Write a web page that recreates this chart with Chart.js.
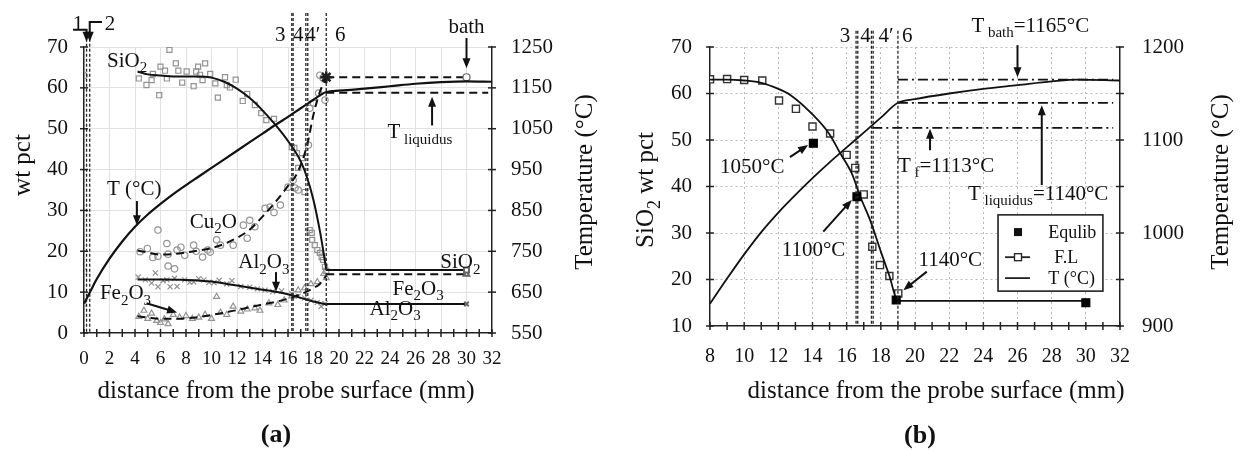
<!DOCTYPE html>
<html>
<head>
<meta charset="utf-8">
<script src="https://cdn.jsdelivr.net/npm/chart.js@4.4.1/dist/chart.umd.min.js"></script>
<style>
  body { margin: 0; background: #fff; width: 1247px; height: 451px; overflow: hidden; position: relative; }
  canvas { position: absolute; top: 0; }
  #chartA { left: 0; }
  #chartB { left: 620px; }
</style>
</head>
<body>
<canvas id="chartA" width="620" height="451"></canvas>
<canvas id="chartB" width="627" height="451"></canvas>
<script>
// ---------- panel (a): measured points [distance mm, wt pct] ----------
const aSiO2Pts = [[0,15],[4.3,62.3],[4.9,60.7],[5.3,61.9],[5.4,63.4],[5.9,58.2],[6.0,65.2],[6.35,64.2],[6.5,62.3],[6.7,69.3],[7.2,66],[7.4,64.2],[7.7,61.3],[8.05,64],[8.6,60.4],[8.8,64],[8.95,65.2],[9.1,63.2],[9.3,61.9],[9.5,66],[9.9,63.4],[10.3,61.1],[10.5,57.6],[11.06,62.6],[11.2,60.7],[11.45,60.1],[11.9,62],[12.45,56.8],[12.8,58.5],[13.4,55.8],[13.9,53.8],[14.3,52.1],[14.9,52.4],[16.3,45.5],[16.5,45.3],[16.7,44],[17.1,42.8],[16.8,40.4],[17.3,34.5],[17.7,25.2],[17.86,24.5],[17.9,22.8],[18.1,21.5],[18.3,20.3],[18.5,19.6],[18.64,18.6],[18.75,17.9],[18.9,16.2],[19,15.2]];
const aCu2OPts = [[0,63],[4.4,19.9],[4.97,20.7],[5.4,18.5],[5.8,18.8],[5.8,25.2],[6.5,21.9],[6.6,19.3],[6.6,16.4],[7.1,15.7],[7.3,20.3],[7.6,21],[7.9,19.0],[8.6,21.5],[8.8,20],[9.3,18.6],[9.7,20.3],[9.9,19.8],[10.4,22.8],[10.7,21.5],[11.7,21.5],[12.5,26.4],[12.8,23.2],[13.0,27.6],[13.4,26],[14.2,30.5],[14.6,30.8],[14.9,29.5],[15.4,31.3],[16.0,35.7],[16.4,37.4],[16.55,35.5],[16.8,35],[17.6,46],[17.7,55],[18,56.3],[18.4,58.7],[18.9,57],[18.5,63.1],[18.75,62.4],[19,62.5]];
const aAl2O3Pts = [[0,7],[4.25,13.7],[4.8,13],[5.3,12.2],[5.6,14.7],[5.8,11.3],[6.2,12.8],[6.5,13],[6.75,11.3],[7.1,13.4],[7.3,11.4],[7.9,13],[8.3,12.4],[8.6,12.5],[9.0,13.3],[9.4,13],[9.8,12.4],[10.2,12.3],[10.6,12.9],[11.2,12],[11.6,12.8],[12.3,11.4],[13,11.2],[13.6,10.8],[14.2,10.5],[14.8,10.1],[15.5,10.3],[16.3,9.6],[16.8,9],[17.3,8.6],[17.8,8],[18.3,7.5],[18.6,6.5],[18.9,7.2]];
const aFe2O3Pts = [[4.3,4.0],[4.7,5.5],[5.0,3.5],[5.3,4.8],[5.7,3],[6.0,2.5],[6.3,3.4],[6.6,2.2],[7.0,4.5],[7.5,3.8],[8.0,4.2],[8.5,3.5],[9.0,3.8],[9.5,4.5],[10.0,3.5],[10.4,8.9],[10.7,5],[11.2,4.5],[11.7,6.5],[12.3,5.3],[12.8,5.8],[13.4,6.1],[13.8,5.5],[14.5,7.3],[15.2,6.9],[15.7,8],[16.3,9],[16.8,10.5],[17.3,11],[17.8,12],[18.3,12.5],[18.8,14.5],[19,13.5]];

// fitted curves
const aSiO2Fit = [[4.2,64],[5,63.3],[6,63],[7,62.8],[8,62.8],[9,62.8],[10,62.5],[11,61.5],[12,59.8],[13,57.5],[14,54.5],[15,51],[16,47],[17,42],[17.5,38],[18,32.5],[18.5,25],[18.8,19.5],[19,15.5]];
const aCu2OFit = [[4.2,20.2],[5,19.7],[6,19.2],[7,19.3],[8,19.7],[9,20.2],[10,20.8],[11,21.8],[12,23.3],[13,25.3],[14,28.5],[15,32],[16,36],[16.7,39],[17.5,46],[18,53.5],[18.5,59],[19,62.5]];
const aAl2O3Fit = [[4.2,13.1],[6,13.1],[8,13],[10,12.6],[12,11.6],[14,10.6],[15,10.1],[16,9.5],[17,8.6],[18,7.7],[19,7]];
const aFe2O3Fit = [[4.2,4.1],[5,3.8],[6,3.5],[7,3.5],[8,3.6],[9,3.9],[10,4.4],[11,5],[12,5.6],[13,6.3],[14,7],[15,7.6],[16,8.4],[17,9.5],[18,11],[18.5,12],[19,14]];
const aTemp = [[0,622],[0.5,652],[1,682],[2,732],[3,774],[4,810],[5,840],[6,866],[7,890],[8,912],[9,933],[10,954],[11,975],[12,996],[13,1017],[14,1038],[15,1059],[16,1079],[17,1100],[18,1121],[19,1140],[20,1143],[22,1148],[24,1154],[26,1160],[28,1164],[30,1166],[32,1165]];

// bath composition (x from 19 to 30 mm)
const aBathX = [19, 30];
const aBathSiO2 = 15.4;
const aBathFe2O3 = 14.4;
const aBathAl2O3 = 7.1;
const aBathCu2O = 62.6;
const aLiqX = [19, 31.7];
const aTLiquidus = 1138;
const aZones = [0.2, 0.45, 16.3, 16.4, 17.4, 17.55, 19];

const aXLabels = [0,2,4,6,8,10,12,14,16,18,20,22,24,26,28,30,32];
const aYLabels = [0,10,20,30,40,50,60,70];
const aTLabels = [550,650,750,850,950,1050,1150,1250];

// ---------- panel (b) ----------
const bEqulib = [[14.05,49.3],[16.6,37.8],[18.9,15.6],[30,15.0]];
const bFLPts = [[8,63.05],[9,63.1],[10,62.9],[11.06,62.8],[12.04,58.5],[13.03,56.7],[14,52.9],[15.03,51.4],[16,46.8],[16.5,44],[17,38.3],[17.5,27.05],[17.95,23.1],[18.5,20.75],[19.02,17.0]];
const bFLFit = [[8,63],[9,63],[10,62.8],[11,62.3],[12,61],[12.7,59.7],[14,55.5],[15,51.2],[15.6,47.3],[16.3,42.8],[16.8,37.8],[17.4,32.5],[18,26],[18.5,20.8],[19,15.4],[30,15.4]];
const bTemp = [[8,924],[9,951],[10,977],[11,1001],[12,1022],[13,1041],[14,1059],[15,1076],[16,1092],[17,1108],[18,1124],[19,1140],[20,1144],[22,1150],[24,1155],[26,1159],[28,1163],[29.5,1165],[32,1164]];
const bTBath = 1165;
const bTLiquidus = 1140;
const bTf = 1113;
const bLineX = [19, 31.6];
const bTfX = [17.5, 31.6];
const bZones = [16.55, 16.65, 17.45, 17.55, 19];

const bXLabels = [8,10,12,14,16,18,20,22,24,26,28,30,32];
const bYLabels = [10,20,30,40,50,60,70];
const bTLabels = [900,1000,1100,1200];

// ---------- helpers ----------
const serif = '"Liberation Serif", "Times New Roman", serif';
const xy = arr => arr.map(p => ({ x: p[0], y: p[1] }));
const flat = (xs, v) => xs.map(x => ({ x: x, y: v }));

function font(size, weight) {
  return (weight ? weight + ' ' : '') + size + 'px ' + serif;
}

// text with {subscript} parts; y is middle of capitals
function rich(ctx, str, x, y, size, align, weight) {
  const parts = [];
  str.replace(/\{([^}]*)\}|([^{]+)/g, (m, sub, n) => {
    parts.push(sub !== undefined ? [sub, true] : [n, false]);
    return m;
  });
  const subSize = Math.round(size * 0.72);
  let w = 0;
  parts.forEach(([t, s]) => { ctx.font = font(s ? subSize : size, weight); w += ctx.measureText(t).width; });
  let cx = align === 'center' ? x - w / 2 : align === 'right' ? x - w : x;
  const base = y + size * 0.33;
  ctx.textAlign = 'left';
  ctx.textBaseline = 'alphabetic';
  ctx.fillStyle = '#111';
  parts.forEach(([t, s]) => {
    ctx.font = font(s ? subSize : size, weight);
    ctx.fillText(t, cx, s ? base + size * 0.26 : base);
    cx += ctx.measureText(t).width;
  });
}

function vtext(ctx, str, x, y, size) {
  ctx.save();
  ctx.translate(x, y);
  ctx.rotate(-Math.PI / 2);
  rich(ctx, str, 0, 0, size, 'center');
  ctx.restore();
}

function arrow(ctx, pts) {
  ctx.save();
  ctx.strokeStyle = '#111';
  ctx.fillStyle = '#111';
  ctx.lineWidth = 2;
  const n = pts.length;
  const [x1, y1] = pts[n - 2], [x2, y2] = pts[n - 1];
  const a = Math.atan2(y2 - y1, x2 - x1), L = 10, W = 4;
  ctx.beginPath();
  ctx.moveTo(pts[0][0], pts[0][1]);
  for (let i = 1; i < n - 1; i++) ctx.lineTo(pts[i][0], pts[i][1]);
  ctx.lineTo(x2 - 6 * Math.cos(a), y2 - 6 * Math.sin(a));
  ctx.stroke();
  ctx.beginPath();
  ctx.moveTo(x2, y2);
  ctx.lineTo(x2 - L * Math.cos(a) + W * Math.sin(a), y2 - L * Math.sin(a) - W * Math.cos(a));
  ctx.lineTo(x2 - L * Math.cos(a) - W * Math.sin(a), y2 - L * Math.sin(a) + W * Math.cos(a));
  ctx.closePath();
  ctx.fill();
  ctx.restore();
}

function P(chart, x, y, id) {
  return [chart.scales.x.getPixelForValue(x), chart.scales[id || 'y'].getPixelForValue(y)];
}

function crossTicks(ctx, chart) {
  ctx.save();
  ctx.strokeStyle = '#222';
  ctx.lineWidth = 1.5;
  ['x', 'y', 'yT'].forEach(id => {
    const s = chart.scales[id];
    s.ticks.forEach(t => {
      const p = s.getPixelForValue(t.value);
      ctx.beginPath();
      if (id === 'x') { ctx.moveTo(p, s.top - 4); ctx.lineTo(p, s.top + 4); }
      else if (id === 'y') { ctx.moveTo(s.right - 4, p); ctx.lineTo(s.right + 4, p); }
      else { ctx.moveTo(s.left - 4, p); ctx.lineTo(s.left + 4, p); }
      ctx.stroke();
    });
  });
  ctx.restore();
}

function zoneLines(ctx, chart, xs, top) {
  const area = chart.chartArea;
  ctx.save();
  ctx.strokeStyle = '#222';
  ctx.lineWidth = 1.3;
  ctx.setLineDash([3, 2]);
  xs.forEach(v => {
    const px = chart.scales.x.getPixelForValue(v);
    const t = chart.scales.y.getPixelForValue(typeof top === 'function' ? top(v) : top);
    ctx.beginPath();
    ctx.moveTo(px, t);
    ctx.lineTo(px, area.bottom);
    ctx.stroke();
  });
  ctx.restore();
}

function scales(o) {
  const lab = (list) => (v) => list.includes(v) ? String(v) : '';
  return {
    x: {
      type: 'linear', min: o.xMin, max: o.xMax,
      afterFit: s => { s.height = o.xH; },
      ticks: { stepSize: 1, autoSkip: false, maxRotation: 0, padding: o.xPad, color: '#111',
        font: { family: serif, size: o.xFont }, callback: lab(o.xLabels) },
      grid: { drawTicks: false, lineWidth: 1,
        color: c => c.tick && o.xLabels.includes(c.tick.value) && c.tick.value !== o.xMin && c.tick.value !== o.xMax ? o.grid : 'transparent' },
      border: { color: '#222', width: 1.5, dash: o.dash }
    },
    y: {
      type: 'linear', position: 'left', min: o.yMin, max: o.yMax,
      afterFit: s => { s.width = o.yW; },
      ticks: { stepSize: 5, padding: o.yPad, color: '#111', font: { family: serif, size: 21 }, callback: lab(o.yLabels) },
      grid: { drawTicks: false, lineWidth: 1,
        color: c => c.tick && c.tick.value % o.yGrid === 0 && c.tick.value !== o.yMin ? o.grid : 'transparent' },
      border: { color: '#222', width: 1.5, dash: o.dash }
    },
    yT: {
      type: 'linear', position: 'right', min: o.tMin, max: o.tMax,
      afterFit: s => { s.width = o.tW; },
      ticks: { stepSize: 50, padding: o.tPad, color: '#111', font: { family: serif, size: 21 }, callback: lab(o.tLabels) },
      grid: { display: false, drawTicks: false },
      border: { color: '#222', width: 1.5 }
    }
  };
}

function line(data, opts) {
  return Object.assign({ data: data, showLine: true, pointRadius: 0, borderColor: '#111', borderWidth: 2,
    tension: 0.4, cubicInterpolationMode: 'monotone', yAxisID: 'y' }, opts);
}
function pts(data, style, opts) {
  return Object.assign({ data: data, showLine: false, pointStyle: style, pointRadius: 3.2, borderWidth: 1.2,
    pointBorderColor: '#939393', pointBackgroundColor: 'rgba(0,0,0,0)', yAxisID: 'y' }, opts);
}

Chart.defaults.animation = false;
Chart.defaults.plugins.legend.display = false;
Chart.defaults.plugins.tooltip.enabled = false;

// ---------- chart (a) ----------
const aNotes = [
  ['SiO{2}', 1.8, 66.9, 'left'], ['T (°C)', 1.8, 35.4, 'left'], ['Cu{2}O', 8.3, 27.4, 'left'],
  ['Al{2}O{3}', 12.1, 17.5, 'left'], ['Fe{2}O{3}', 1.25, 9.9, 'left'], ['bath', 30, 75.1, 'center'],
  ['T{ liquidus}', 23.8, 49.4, 'left'], ['SiO{2}', 31.1, 17.5, 'right'], ['Fe{2}O{3}', 24.2, 11.1, 'left'],
  ['Al{2}O{3}', 22.4, 6.2, 'left'], ['1', -0.47, 75.9, 'center'], ['2', 2.04, 75.9, 'center'],
  ['3', 15.4, 73.2, 'center'], ['4', 16.8, 73.2, 'center'], ['4′', 17.95, 73.2, 'center'], ['6', 20.1, 73.2, 'center']
];
const aArrows = [
  [[4.15, 32.3], [4.15, 26.4]], [[15.06, 14.9], [15.06, 10.1]], [[4.9, 7.3], [7.3, 5.0]],
  [[30, 72.2], [30, 64.8]], [[27.3, 50.8], [27.3, 57.8]],
  [[-0.86, 74.2], [0.2, 74.2], [0.2, 71.3]], [[1.41, 76.1], [0.45, 76.1], [0.45, 71.3]]
];

const plugA = {
  id: 'panelA',
  afterDraw(chart) {
    const ctx = chart.ctx, area = chart.chartArea;
    zoneLines(ctx, chart, aZones, v => v < 1 ? 72 : 78.3);
    crossTicks(ctx, chart);
    aNotes.forEach(n => { const p = P(chart, n[1], n[2]); rich(ctx, n[0], p[0], p[1], 21, n[3]); });
    aArrows.forEach(a => arrow(ctx, a.map(q => P(chart, q[0], q[1]))));
    vtext(ctx, 'wt pct', area.left - 62, 165, 25);
    vtext(ctx, 'Temperature (°C)', area.right + 92, 182, 25);
    rich(ctx, 'distance from the probe surface (mm)', (area.left + area.right) / 2 - 2, area.bottom + 57, 25, 'center');
    rich(ctx, '(a)', (area.left + area.right) / 2 - 12, area.bottom + 100, 26, 'center', 'bold');
  }
};

new Chart(document.getElementById('chartA'), {
  type: 'scatter',
  data: {
    datasets: [
      line(xy(aTemp), { yAxisID: 'yT', borderWidth: 2.2 }),
      line(xy(aSiO2Fit)),
      line(xy(aAl2O3Fit)),
      line(xy(aCu2OFit), { borderDash: [8, 5] }),
      line(xy(aFe2O3Fit), { borderDash: [8, 5] }),
      line(flat(aBathX, aBathSiO2), { pointRadius: [0, 3.5], pointStyle: 'rect', pointBorderColor: '#666', pointBackgroundColor: '#fff' }),
      line(flat(aBathX, aBathFe2O3), { borderDash: [8, 5], pointRadius: [0, 3.2], pointStyle: 'triangle', pointBorderColor: '#666', pointBackgroundColor: '#fff' }),
      line(flat(aBathX, aBathAl2O3), { pointRadius: [0, 3.2], pointStyle: 'crossRot', pointBorderColor: '#666' }),
      line(flat(aBathX, aBathCu2O), { borderDash: [8, 5], pointRadius: [6, 3.5], pointStyle: ['star', 'circle'], pointBorderColor: ['#222', '#666'], pointBorderWidth: [2.5, 1.2], pointBackgroundColor: '#fff' }),
      line(flat(aLiqX, aTLiquidus), { yAxisID: 'yT', borderDash: [8, 5] }),
      pts(xy(aSiO2Pts), 'rect', { pointRadius: 3.6 }),
      pts(xy(aCu2OPts), 'circle'),
      pts(xy(aAl2O3Pts), 'crossRot', { pointRadius: 3.6 }),
      pts(xy(aFe2O3Pts), 'triangle', { pointRadius: 3.4 })
    ]
  },
  options: {
    responsive: false,
    layout: { padding: { left: 0, right: 0, top: 47, bottom: 0 } },
    scales: scales({ xMin: 0, xMax: 32, xH: 118, xPad: 15, xFont: 19, xLabels: aXLabels,
      yMin: 0, yMax: 70, yW: 84, yPad: 16, yLabels: aYLabels, yGrid: 10,
      tMin: 550, tMax: 1250, tW: 128, tPad: 19, tLabels: aTLabels, grid: '#e2e2e2', dash: [] })
  },
  plugins: [plugA]
});

// ---------- chart (b) ----------
const bNotes = [
  ['1050°C', 8.59, 44.4, 'left'], ['1100°C', 12.2, 26.5, 'left'], ['1140°C', 20.2, 24.5, 'left'],
  ['T{ f}=1113°C', 19.0, 44.7, 'left'], ['T{ liquidus}=1140°C', 23.1, 38.6, 'left'], ['T{ bath}=1165°C', 23.3, 74.8, 'left'],
  ['3', 15.9, 72.6, 'center'], ['4', 17.1, 72.6, 'center'], ['4′', 18.3, 72.6, 'center'], ['6', 19.55, 72.6, 'center']
];
const bArrows = [
  [[12.68, 46.3], [13.74, 48.9]], [[14.63, 30.3], [16.3, 37.1]], [[20.69, 21.7], [19.32, 17.7]],
  [[20.88, 47.8], [20.88, 52.4]], [[27.42, 40.3], [27.42, 57.5]], [[26.0, 70.4], [26.0, 63.5]]
];

const plugB = {
  id: 'panelB',
  afterDraw(chart) {
    const ctx = chart.ctx, area = chart.chartArea;
    zoneLines(ctx, chart, bZones, 73.5);
    crossTicks(ctx, chart);
    bNotes.forEach(n => { const p = P(chart, n[1], n[2]); rich(ctx, n[0], p[0], p[1], 21, n[3]); });
    bArrows.forEach(a => arrow(ctx, a.map(q => P(chart, q[0], q[1]))));

    // legend box
    const [l, t] = P(chart, 24.86, 33.9), [r, b] = P(chart, 31.0, 17.5);
    ctx.save();
    ctx.fillStyle = '#fff';
    ctx.fillRect(l, t, r - l, b - t);
    ctx.strokeStyle = '#222';
    ctx.lineWidth = 1.6;
    ctx.strokeRect(l, t, r - l, b - t);
    const [sx, y1] = P(chart, 26.03, 30.2), [, y2] = P(chart, 26.03, 24.8), [, y3] = P(chart, 26.03, 20.3);
    const [lx1] = P(chart, 25.27, 0), [lx2] = P(chart, 26.73, 0), [tx] = P(chart, 27.8, 0);
    ctx.fillStyle = '#111';
    ctx.fillRect(sx - 4, y1 - 4, 8, 8);
    ctx.lineWidth = 1.8;
    [y2, y3].forEach(yy => { ctx.beginPath(); ctx.moveTo(lx1, yy); ctx.lineTo(lx2, yy); ctx.stroke(); });
    ctx.fillStyle = '#fff';
    ctx.lineWidth = 1.3;
    ctx.fillRect(sx - 3.5, y2 - 3.5, 7, 7);
    ctx.strokeRect(sx - 3.5, y2 - 3.5, 7, 7);
    ctx.restore();
    rich(ctx, 'Equlib', tx, y1, 18, 'left');
    rich(ctx, 'F.L', tx + 6, y2, 18, 'left');
    rich(ctx, 'T (°C)', tx, y3, 18, 'left');

    vtext(ctx, 'SiO{2} wt pct', area.left - 65, 190, 25);
    vtext(ctx, 'Temperature (°C)', area.right + 100, 182, 25);
    rich(ctx, 'distance from the probe surface (mm)', (area.left + area.right) / 2 + 21, area.bottom + 64, 25, 'center');
    rich(ctx, '(b)', (area.left + area.right) / 2 + 5, area.bottom + 108, 26, 'center', 'bold');
  }
};

new Chart(document.getElementById('chartB'), {
  type: 'scatter',
  data: {
    datasets: [
      pts(xy(bEqulib), 'rect', { pointRadius: 5.6, pointBorderColor: '#000', pointBackgroundColor: '#000' }),
      line(xy(bTemp), { yAxisID: 'yT', borderWidth: 1.8, tension: 0.3 }),
      line(xy(bFLFit), { borderWidth: 1.8, tension: 0.3 }),
      line(flat(bLineX, bTBath), { yAxisID: 'yT', borderDash: [10, 4, 2, 4], borderWidth: 1.8 }),
      line(flat(bLineX, bTLiquidus), { yAxisID: 'yT', borderDash: [10, 4, 2, 4], borderWidth: 1.8 }),
      line(flat(bTfX, bTf), { yAxisID: 'yT', borderDash: [10, 4, 2, 4], borderWidth: 1.8 }),
      pts(xy(bFLPts), 'rect', { pointRadius: 5, borderWidth: 1.4, pointBorderColor: '#333', pointBackgroundColor: '#fff' })
    ]
  },
  options: {
    responsive: false,
    layout: { padding: { left: 0, right: 0, top: 47, bottom: 0 } },
    scales: scales({ xMin: 8, xMax: 32, xH: 125, xPad: 19, xFont: 20, xLabels: bXLabels,
      yMin: 10, yMax: 70, yW: 90, yPad: 18, yLabels: bYLabels, yGrid: 5,
      tMin: 900, tMax: 1200, tW: 127, tPad: 22, tLabels: bTLabels, grid: '#b8b8b8', dash: [2, 3] })
  },
  plugins: [plugB]
});
</script>
</body>
</html>
